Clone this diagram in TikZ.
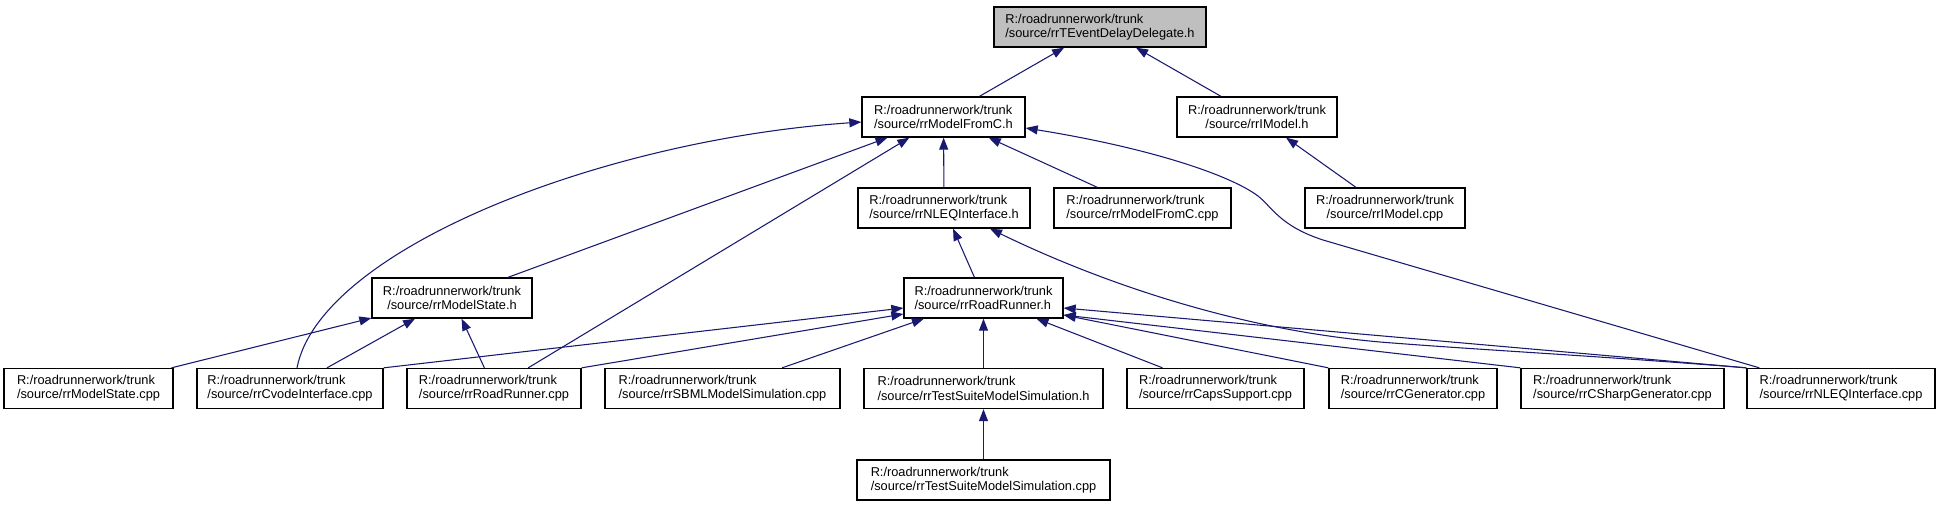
\documentclass[tikz,border=0pt]{standalone}
\usepackage{fontspec}
\setmainfont{Liberation Sans}
\usetikzlibrary{arrows.meta,calc}
\definecolor{edgec}{RGB}{25,25,112}
\definecolor{rootfill}{RGB}{191,191,191}
\begin{document}
\begin{tikzpicture}[x=0.75pt,y=-0.75pt,
  box/.style={draw=black, line width=1pt, fill=white, minimum height=30pt, inner sep=0pt, align=left, font=\fontsize{9.6}{10.75}\selectfont},
  cbox/.style={box, align=center},
  rootbox/.style={box, fill=rootfill},
  dep/.style={draw=edgec, line width=0.8pt, -{Triangle[length=9pt,width=6.75pt]}}]
\useasboundingbox (0,0) rectangle (1940,507);
% rank 0
\node[rootbox, minimum width=159pt] (root) at (1100,27) {R:/roadrunnerwork/trunk\\/source/rrTEventDelayDelegate.h};
% rank 1
\node[box, minimum width=122.25pt] (MFCh) at (943.5,117) {R:/roadrunnerwork/trunk\\/source/rrModelFromC.h};
\node[cbox, minimum width=120pt] (IMh) at (1257,117) {R:/roadrunnerwork/trunk\\/source/rrIModel.h};
% rank 2
\node[box, minimum width=129pt] (NLEQh) at (944,208) {R:/roadrunnerwork/trunk\\/source/rrNLEQInterface.h};
\node[box, minimum width=132.75pt] (MFCcpp) at (1142.5,208) {R:/roadrunnerwork/trunk\\/source/rrModelFromC.cpp};
\node[cbox, minimum width=120pt] (IMcpp) at (1385,208) {R:/roadrunnerwork/trunk\\/source/rrIModel.cpp};
% rank 3
\node[cbox, minimum width=120pt] (MSh) at (452,298) {R:/roadrunnerwork/trunk\\/source/rrModelState.h};
\node[box, minimum width=119.25pt] (RRh) at (983.5,298) {R:/roadrunnerwork/trunk\\/source/rrRoadRunner.h};
% rank 4
\node[box, minimum width=126.75pt] (MScpp) at (88.5,388.5) {R:/roadrunnerwork/trunk\\/source/rrModelState.cpp};
\node[box, minimum width=139.5pt] (CVcpp) at (290,388.5) {R:/roadrunnerwork/trunk\\/source/rrCvodeInterface.cpp};
\node[box, minimum width=130.5pt] (RRcpp) at (494,388.5) {R:/roadrunnerwork/trunk\\/source/rrRoadRunner.cpp};
\node[box, minimum width=176.25pt] (SBMLcpp) at (722.5,388.5) {R:/roadrunnerwork/trunk\\/source/rrSBMLModelSimulation.cpp};
\node[box, minimum width=179.25pt] (TSh) at (983.5,388.5) {R:/roadrunnerwork/trunk\\/source/rrTestSuiteModelSimulation.h};
\node[box, minimum width=132.75pt] (CAPScpp) at (1215.5,388.5) {R:/roadrunnerwork/trunk\\/source/rrCapsSupport.cpp};
\node[box, minimum width=126pt] (CGcpp) at (1413,388.5) {R:/roadrunnerwork/trunk\\/source/rrCGenerator.cpp};
\node[box, minimum width=152.25pt] (CSGcpp) at (1622.5,388.5) {R:/roadrunnerwork/trunk\\/source/rrCSharpGenerator.cpp};
\node[box, minimum width=141pt] (NLEQcpp) at (1841,388.5) {R:/roadrunnerwork/trunk\\/source/rrNLEQInterface.cpp};
% rank 5
\node[box, minimum width=189.75pt] (TScpp) at (983.5,480) {R:/roadrunnerwork/trunk\\/source/rrTestSuiteModelSimulation.cpp};

% edges to root
\draw[dep] (MFCh) -- (root);
\draw[dep] (IMh) -- (root);
% edges to rrIModel.h
\draw[dep] (IMcpp) -- (IMh);
% edges to rrModelFromC.h
\draw[dep] (NLEQh) -- (MFCh);
\draw[dep] (MFCcpp) -- (MFCh);
\draw[dep] (MSh) -- (MFCh);
\draw[dep] (RRcpp) -- (MFCh);
\draw[dep] ($(CVcpp.north)+(7,0)$) .. controls (320,250) and (600,140) .. ($(MFCh.west)+(0,5)$);
\draw[dep] ($(NLEQcpp.north west)+(13,0)$) -- (1323,240) .. controls (1280,226) and (1272,207) .. (1258,196) .. controls (1230,175) and (1150,148) .. ($(MFCh.east)+(0,11)$);
% edges to rrNLEQInterface.h
\draw[dep] (RRh) -- (NLEQh);
\draw[dep] (NLEQcpp.north west) .. controls (1600,356) and (1480,350) .. (1380,342) .. controls (1200,326) and (1050,258) .. ($(NLEQh.south)+(46,0)$);
% edges to rrRoadRunner.h
\draw[dep] (CVcpp.north east) -- ($(RRh.west)+(0,10)$);
\draw[dep] (RRcpp.north east) -- ($(RRh.west)+(0,16)$);
\draw[dep] (SBMLcpp) -- (RRh);
\draw[dep] (TSh) -- (RRh);
\draw[dep] (CAPScpp) -- (RRh);
\draw[dep] (CGcpp.north west) -- ($(RRh.east)+(0,17)$);
\draw[dep] (CSGcpp.north west) -- ($(RRh.east)+(0,17)$);
\draw[dep] (NLEQcpp.north west) -- ($(RRh.east)+(0,10)$);
% edges to rrModelState.h
\draw[dep] (MScpp) -- (MSh);
\draw[dep] (CVcpp) -- (MSh);
\draw[dep] (RRcpp) -- (MSh);
% edges to rrTestSuiteModelSimulation.h
\draw[dep] (TScpp) -- (TSh);
\end{tikzpicture}
\end{document}
